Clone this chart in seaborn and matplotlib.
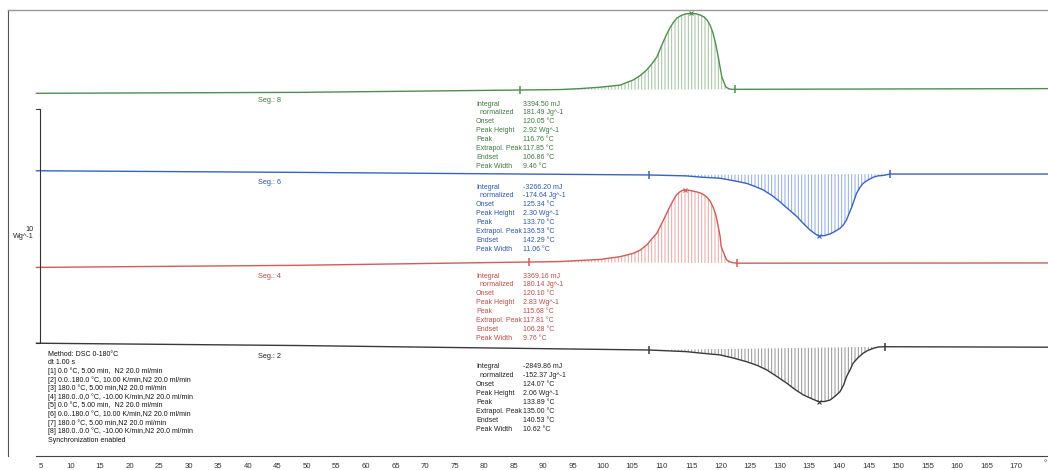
import matplotlib
matplotlib.use("Agg")
import numpy as np
import pandas as pd
import matplotlib.pyplot as plt
import seaborn as sns

# ===============================
# DSC curves (temperature in degC, heat flow in W/g, stacked per segment)
# ===============================
t_seg8 = [4.2, 48.8, 86.0, 92.8, 96.2, 99.6, 103.0, 105.2, 106.4, 107.5, 108.4, 109.2,
          109.7, 110.2, 110.8, 111.4, 112.0, 112.6, 113.3, 114.0, 115.0, 115.8, 116.5,
          117.2, 117.7, 118.2, 118.7, 119.2, 119.6, 119.9, 120.2, 120.6, 120.9, 121.4,
          121.9, 122.4, 175.4]
hf_seg8 = [15.50, 15.54, 15.64, 15.66, 15.70, 15.76, 15.85, 16.07, 16.26, 16.50, 16.77, 17.05,
           17.35, 17.65, 17.99, 18.29, 18.53, 18.72, 18.82, 18.89, 18.92, 18.90, 18.85,
           18.76, 18.63, 18.42, 18.08, 17.56, 17.05, 16.62, 16.20, 15.94, 15.77, 15.69,
           15.67, 15.67, 15.70]

t_seg6 = [4.2, 48.8, 107.9, 114.2, 116.5, 119.9, 122.1, 124.4, 125.8, 127.2, 128.7, 130.0,
          131.4, 132.9, 133.9, 135.1, 135.9, 136.6, 137.6, 138.5, 139.3, 140.2, 140.8,
          141.3, 141.7, 142.2, 142.6, 143.0, 143.5, 144.1, 144.9, 145.8, 146.6, 147.5,
          148.7, 175.4]
hf_seg6 = [12.19, 12.12, 12.01, 11.97, 11.92, 11.87, 11.77, 11.65, 11.52, 11.37, 11.13, 10.87,
           10.56, 10.23, 9.96, 9.66, 9.51, 9.40, 9.42, 9.49, 9.59, 9.73, 9.89,
           10.09, 10.34, 10.65, 10.94, 11.23, 11.45, 11.65, 11.79, 11.91, 11.97, 11.99,
           12.05, 12.05]

t_seg4 = [4.2, 48.8, 87.6, 92.8, 99.6, 103.0, 105.2, 106.4, 107.5, 108.2, 109.2, 109.9,
          110.6, 111.3, 112.0, 112.5, 113.1, 113.5, 114.0, 114.8, 115.9, 116.8, 117.6,
          118.2, 118.7, 119.2, 119.6, 119.9, 120.1, 120.6, 121.0, 121.6, 122.1, 122.8, 175.4]
hf_seg4 = [8.06, 8.15, 8.29, 8.31, 8.40, 8.52, 8.66, 8.80, 9.02, 9.23, 9.52, 9.87,
           10.23, 10.60, 10.94, 11.15, 11.29, 11.35, 11.37, 11.35, 11.29, 11.22, 11.08,
           10.90, 10.65, 10.30, 9.80, 9.40, 8.94, 8.63, 8.38, 8.29, 8.26, 8.24, 8.25]

t_seg2 = [4.2, 48.8, 107.9, 114.2, 116.5, 119.9, 122.1, 124.4, 126.2, 127.8, 129.5, 131.2,
          132.6, 134.0, 135.3, 136.6, 137.6, 138.5, 139.3, 140.2, 140.8, 141.3, 141.9,
          142.4, 143.2, 144.1, 144.9, 145.8, 146.7, 147.8, 175.4]
hf_seg2 = [4.82, 4.72, 4.53, 4.46, 4.40, 4.32, 4.19, 4.03, 3.87, 3.68, 3.40, 3.11,
           2.84, 2.61, 2.46, 2.32, 2.33, 2.39, 2.54, 2.75, 3.03, 3.39, 3.68,
           3.96, 4.19, 4.39, 4.51, 4.60, 4.66, 4.67, 4.65]

# integration limits and peak positions
limits = {"8": (86.0, 122.4), "6": (107.9, 148.7), "4": (87.6, 122.8), "2": (107.9, 147.8)}
peaks = {"8": 115.0, "6": 136.6, "4": 114.0, "2": 136.6}

result_names = ["Integral", "normalized", "Onset", "Peak Height", "Peak",
                "Extrapol. Peak", "Endset", "Peak Width"]
res_seg8 = ["3394.50 mJ", "181.49 Jg^-1", "120.05 °C", "2.92 Wg^-1", "116.76 °C",
            "117.85 °C", "106.86 °C", "9.46 °C"]
res_seg6 = ["-3266.20 mJ", "-174.64 Jg^-1", "125.34 °C", "2.30 Wg^-1", "133.70 °C",
            "136.53 °C", "142.29 °C", "11.06 °C"]
res_seg4 = ["3369.16 mJ", "180.14 Jg^-1", "120.10 °C", "2.83 Wg^-1", "115.68 °C",
            "117.81 °C", "106.28 °C", "9.76 °C"]
res_seg2 = ["-2849.86 mJ", "-152.37 Jg^-1", "124.07 °C", "2.06 Wg^-1", "133.89 °C",
            "135.00 °C", "140.53 °C", "10.62 °C"]

method_lines = [
    "Method: DSC 0-180°C",
    "dt 1.00 s",
    "[1] 0.0 °C, 5.00 min,  N2 20.0 ml/min",
    "[2] 0.0..180.0 °C, 10.00 K/min,N2 20.0 ml/min",
    "[3] 180.0 °C, 5.00 min,N2 20.0 ml/min",
    "[4] 180.0..0,0 °C, -10.00 K/min,N2 20.0 ml/min",
    "[5] 0.0 °C, 5.00 min,  N2 20.0 ml/min",
    "[6] 0.0..180.0 °C, 10.00 K/min,N2 20.0 ml/min",
    "[7] 180.0 °C, 5.00 min,N2 20.0 ml/min",
    "[8] 180.0..0.0 °C, -10.00 K/min,N2 20.0 ml/min",
    "Synchronization enabled",
]

segments = [
    ("8", t_seg8, hf_seg8, res_seg8, "#4f8f4f", "#3f7a3f", 104),
    ("6", t_seg6, hf_seg6, res_seg6, "#3563c9", "#2b55c0", 187),
    ("4", t_seg4, hf_seg4, res_seg4, "#d65a55", "#c84a45", 276),
    ("2", t_seg2, hf_seg2, res_seg2, "#3a3a3a", "#222222", 367),
]

# ===============================
# Figure
# ===============================
sns.set_style("white")
plt.rcParams["font.family"] = ["Liberation Sans", "DejaVu Sans"]
plt.rcParams["hatch.linewidth"] = 0.7

W, H = 1048, 470
fig = plt.figure(figsize=(W / 100, H / 100), dpi=100)
ax = fig.add_axes([8 / W, 14 / H, 1040 / W, 446 / H])
ax.set_xlim(-0.58, 175.39)
ax.set_ylim(0, 446 / 23.4)


def fpos(px, py):
    return px / W, 1 - py / H


for seg, t, hf, res, col, tcol, ytop in segments:
    df = pd.DataFrame({"T": t, "HF": hf})
    a, b = limits[seg]
    ya, yb = df.loc[df["T"] == a, "HF"].iloc[0], df.loc[df["T"] == b, "HF"].iloc[0]
    part = df[(df["T"] >= a) & (df["T"] <= b)]
    base = np.interp(part["T"], [a, b], [ya, yb])
    ax.fill_between(part["T"], part["HF"], base, facecolor="none", edgecolor=col,
                    hatch="|||||", linewidth=0, alpha=0.55)
    sns.lineplot(data=df, x="T", y="HF", ax=ax, color=col, lw=1.0, estimator=None)
    ax.plot([a, b], [ya, yb], ls="none", marker="|", ms=6, mew=1.1, color=col)
    yp = df.loc[df["T"] == peaks[seg], "HF"].iloc[0]
    ax.plot([peaks[seg]], [yp], ls="none", marker="x", ms=3.5, mew=0.8, color=col)

    # Seg label
    sx, sy = fpos(270, {"8": 101, "6": 182, "4": 276, "2": 357}[seg])
    fig.text(sx, sy, f"Seg.: {seg}", color=tcol, fontsize=5.3, ha="center", va="center")

    # evaluation results
    for i, (name, val) in enumerate(zip(result_names, res)):
        py = ytop + 8.9 * i
        nx = 480 if name == "normalized" else 476
        fig.text(*fpos(nx, py), name, color=tcol, fontsize=5, va="center")
        fig.text(*fpos(523, py), val, color=tcol, fontsize=5, va="center")

# scale bar 10 W/g
ax.plot([4.15, 4.83, 4.83, 4.15], [14.83, 14.83, 4.83, 4.83], color="#333333", lw=0.8)
fig.text(*fpos(34, 230), "10", fontsize=5.2, ha="right", va="center")
fig.text(*fpos(34, 237), "Wg^-1", fontsize=5.2, ha="right", va="center")

# method text
for i, line in enumerate(method_lines):
    fig.text(*fpos(48, 354 + 8.6 * i), line, fontsize=5, va="center", color="#111111")

# axes styling
ax.spines["right"].set_visible(False)
ax.spines["top"].set_color("#9a9a9a")
ax.spines["top"].set_linewidth(1.0)
ax.spines["left"].set_color("#555555")
ax.spines["left"].set_linewidth(0.8)
ax.spines["bottom"].set_color("#444444")
ax.spines["bottom"].set_linewidth(0.8)
ax.spines["bottom"].set_bounds(4.15, 175.39)
ax.set_xticks(np.arange(5, 171, 5))
ax.set_xticks(np.arange(5, 176, 1), minor=True)
ax.tick_params(axis="x", which="major", direction="out", length=3.5, width=0.6,
               labelsize=5.6, pad=1.5, colors="#333333")
ax.tick_params(axis="x", which="minor", direction="out", length=2, width=0.5, colors="#555555")
ax.set_yticks([])
ax.set_xlabel("")
ax.set_ylabel("")
fig.text(*fpos(1045, 464), "°", fontsize=5.6, ha="center", va="center", color="#333333")

fig.savefig("out.png", dpi=100)
